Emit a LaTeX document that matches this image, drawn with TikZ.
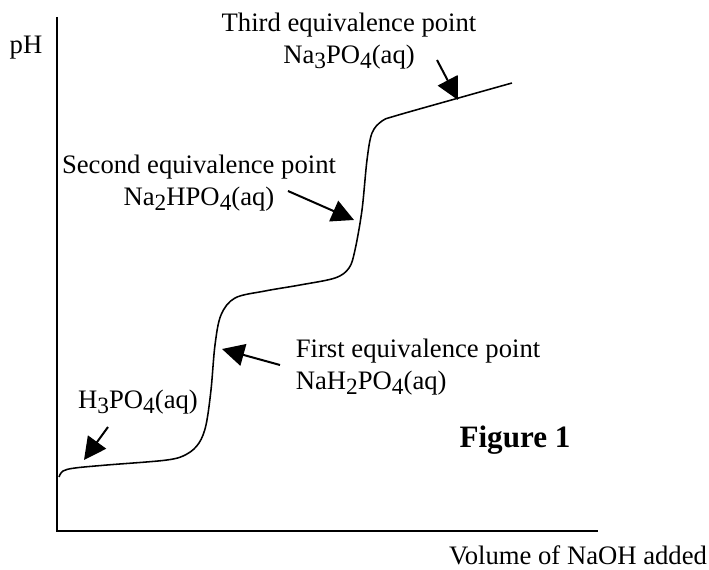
\documentclass[tikz,border=0pt]{standalone}
\usepackage{fontspec}
\setmainfont{Liberation Serif}
\usetikzlibrary{arrows.meta}
\newcommand{\chemsub}[1]{\raisebox{-0.4ex}{\fontsize{10.5}{10.5}\selectfont #1}}
\begin{document}
\begin{tikzpicture}[x=0.45pt, y=-0.45pt, font=\fontsize{12}{14.4}\selectfont,
    pointer/.style={-{Triangle[length=10pt, width=10pt]}, line width=0.9pt},
    axis/.style={line width=0.9pt}]
    \useasboundingbox (0,0) rectangle (709,570);
    % axes
    \coordinate (origin) at (57,531);
    \coordinate (ytop) at (57,17);
    \coordinate (xend) at (598,531);
    \draw [axis] (ytop) -- (origin) -- (xend);
    \node (ph) at (26,48) {pH};
    \node (volume) at (578,555) {Volume of NaOH added};
    % titration curve
    \draw [line width=0.7pt] plot [smooth, tension=0.55] coordinates {
        (59,477) (63,471) (75,468) (107,465) (167,460) (187,454) (199,443)
        (206,425) (211,390) (215,345) (221,315) (235,298) (265,291) (300,285)
        (335,278) (349,268) (355,250) (362,210) (367,160) (372,133) (382,121)
        (395,116) (455,99) (512,83)};
    % labels
    \node (acid) at (138,402) {H\chemsub{3}PO\chemsub{4}(aq)};
    \node (first) [anchor=west, align=left] at (288,367) {First equivalence point\\NaH\chemsub{2}PO\chemsub{4}(aq)};
    \node (second) [align=center] at (199,183) {Second equivalence point\\Na\chemsub{2}HPO\chemsub{4}(aq)};
    \node (third) [align=center] at (349,41) {Third equivalence point\\Na\chemsub{3}PO\chemsub{4}(aq)};
    \node (figure) at (515,440) {\fontsize{14}{16}\selectfont\bfseries Figure 1};
    % arrows
    \coordinate (acidtail) at (108,427);
    \coordinate (acidtip) at (84,460);
    \coordinate (firsttail) at (280,365);
    \coordinate (firsttip) at (222,349);
    \coordinate (secondtail) at (288,191);
    \coordinate (secondtip) at (354,220);
    \coordinate (thirdtail) at (437,60);
    \coordinate (thirdtip) at (458,100);
    \draw [pointer] (acidtail) -- (acidtip);
    \draw [pointer] (firsttail) -- (firsttip);
    \draw [pointer] (secondtail) -- (secondtip);
    \draw [pointer] (thirdtail) -- (thirdtip);
\end{tikzpicture}
\end{document}
